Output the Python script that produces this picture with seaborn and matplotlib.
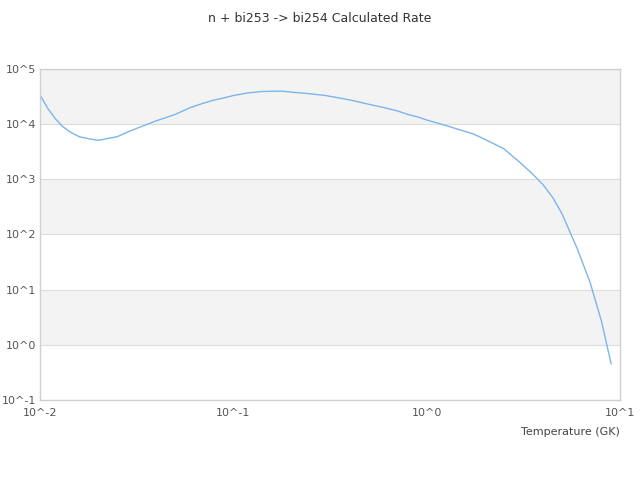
import numpy as np
import pandas as pd
import matplotlib
matplotlib.use("Agg")
import matplotlib.pyplot as plt
from matplotlib.ticker import FuncFormatter, LogLocator, NullLocator
import seaborn as sns

# Datos
temperature = [0.01, 0.011, 0.012, 0.013, 0.014, 0.015, 0.016, 0.018, 0.02,
               0.025, 0.03, 0.04, 0.05, 0.06, 0.07, 0.08, 0.09, 0.1, 0.12,
               0.14, 0.16, 0.18, 0.2, 0.25, 0.3, 0.35, 0.4, 0.45, 0.5, 0.6,
               0.7, 0.8, 0.9, 1.0, 1.25, 1.5, 1.75, 2.0, 2.5, 3.0, 3.5, 4.0,
               4.5, 5.0, 6.0, 7.0, 8.0, 9.0]
rate = [3.4e4, 1.9e4, 1.26e4, 9.3e3, 7.6e3, 6.6e3, 5.9e3, 5.4e3, 5.1e3,
        5.9e3, 7.8e3, 1.15e4, 1.5e4, 2.0e4, 2.4e4, 2.75e4, 3.0e4, 3.3e4, 3.7e4,
        3.9e4, 3.95e4, 3.95e4, 3.8e4, 3.55e4, 3.3e4, 3.0e4, 2.75e4, 2.5e4, 2.3e4, 2.0e4,
        1.75e4, 1.5e4, 1.35e4, 1.19e4, 9.5e3, 7.8e3, 6.6e3, 5.3e3, 3.6e3, 2.1e3, 1.28e3, 800,
        460, 240, 56, 13.5, 2.75, 0.45]
y_decades = [-1, 0, 1, 2, 3, 4, 5]

df = pd.DataFrame({"T": temperature, "rate": rate})

sns.set_style("white")
fig = plt.figure(figsize=(6.4, 4.8), dpi=100)
ax = fig.add_axes([0.0625, 0.1667, 0.9063, 0.6896])

# Bandas alternas grises
for i, lo in enumerate(y_decades[:-1]):
    if (y_decades[-1] - lo) % 2 == 1:
        ax.axhspan(10.0 ** lo, 10.0 ** (lo + 1), color="#f3f3f3", zorder=0, lw=0)

sns.lineplot(data=df, x="T", y="rate", ax=ax, color="#7cb5ec", linewidth=1)

ax.set_xscale("log")
ax.set_yscale("log")
ax.set_xlim(0.01, 10)
ax.set_ylim(10.0 ** y_decades[0], 10.0 ** y_decades[-1])

fmt = FuncFormatter(lambda v, p: "10^%d" % round(np.log10(v)))
ax.xaxis.set_major_locator(LogLocator(base=10, numticks=10))
ax.yaxis.set_major_locator(LogLocator(base=10, numticks=10))
ax.xaxis.set_minor_locator(NullLocator())
ax.yaxis.set_minor_locator(NullLocator())
ax.xaxis.set_major_formatter(fmt)
ax.yaxis.set_major_formatter(fmt)
ax.tick_params(axis="both", length=0, labelsize=8, labelcolor="#555555")
ax.tick_params(axis="y", pad=3)
ax.tick_params(axis="x", pad=6)

ax.grid(axis="y", color="#dddddd", linewidth=0.8)
ax.set_axisbelow(True)
for s in ax.spines.values():
    s.set_color("#d0d0d0")
    s.set_linewidth(1)

ax.set_xlabel("Temperature (GK)", fontsize=8, color="#444444", loc="right", labelpad=6)
ax.set_ylabel("")
fig.text(0.5, 0.975, "n + bi253 -> bi254 Calculated Rate", ha="center", va="top",
         fontsize=9, color="#333333")

plt.savefig("out.png", dpi=100)
plt.close()
